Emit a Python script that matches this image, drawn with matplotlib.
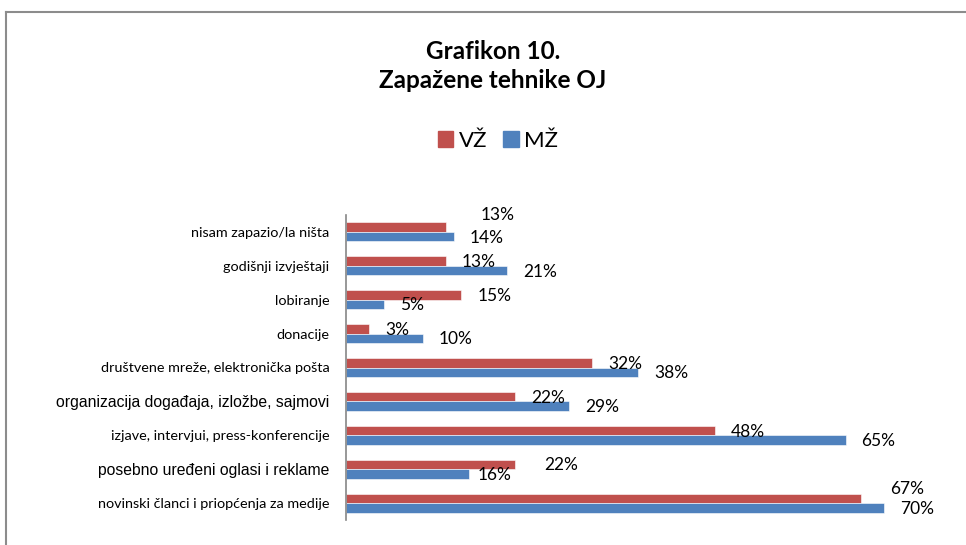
import matplotlib.pyplot as plt
from matplotlib.patches import Patch
from matplotlib.lines import Line2D

categories = [
    "nisam zapazio/la ništa",
    "godišnji izvještaji",
    "lobiranje",
    "donacije",
    "društvene mreže, elektronička pošta",
    "organizacija događaja, izložbe, sajmovi",
    "izjave, intervjui, press-konferencije",
    "posebno uređeni oglasi i reklame",
    "novinski članci i priopćenja za medije",
]
vz = [13, 13, 15, 3, 32, 22, 48, 22, 67]
mz = [14, 21, 5, 10, 38, 29, 65, 16, 70]
series_names = ["VŽ", "MŽ"]

RED = "#C0504D"
BLUE = "#4F81BD"
W, H = 966, 545
PT = 0.72  # points per pixel at dpi 100

# hand-dragged label nudges in pixels (dx, dy up)
nudges = {("vz", 0): (19, 13), ("vz", 7): (13, 0), ("vz", 8): (13, 10), ("mz", 7): (-7, 0)}

fig = plt.figure(figsize=(W / 100, H / 100), dpi=100)
ax = fig.add_axes([346 / W, 1 - 520 / H, (930 - 346) / W, 305 / H])

ypos = list(range(len(categories)))
bh = 0.28
ax.barh([y - bh / 2 for y in ypos], vz, height=bh, color=RED, edgecolor="white", linewidth=0.4)
ax.barh([y + bh / 2 for y in ypos], mz, height=bh, color=BLUE, edgecolor="white", linewidth=0.4)

ax.set_xlim(0, 70 * (930 - 346) / (884 - 346))
ax.set_ylim(8.5, -0.5)

for key, vals, off in (("vz", vz, -bh / 2), ("mz", mz, bh / 2)):
    for i, v in enumerate(vals):
        dx, dy = nudges.get((key, i), (0, 0))
        ax.annotate(f"{v}%", (v, i + off), xytext=((16 + dx) * PT, (dy - 1) * PT),
                    textcoords="offset points", ha="left", va="center",
                    fontsize=12.5, family="Lato", color="black")

ax.set_yticks(ypos)
ax.set_yticklabels(categories)
for i, lab in enumerate(ax.get_yticklabels()):
    if i in (5, 7):
        lab.set_family("Liberation Sans")
        lab.set_fontsize(11.3)
    else:
        lab.set_family("Lato")
        lab.set_fontsize(10.4)
ax.tick_params(axis="y", length=0, pad=12)
ax.set_xticks([])
for s in ("top", "right", "bottom"):
    ax.spines[s].set_visible(False)
ax.spines["left"].set_color("#868686")
ax.spines["left"].set_linewidth(1.2)

fig.text(493 / W, 1 - 51 / H, "Grafikon 10.", ha="center", va="center",
         fontsize=17.5, fontweight="bold", family="Lato")
fig.text(493 / W, 1 - 81 / H, "Zapažene tehnike OJ", ha="center", va="center",
         fontsize=17.5, fontweight="bold", family="Lato")

handles = [Patch(color=RED), Patch(color=BLUE)]
fig.legend(handles, series_names, loc="center", bbox_to_anchor=(498 / W, 1 - 141 / H),
           ncol=2, frameon=False, prop={"family": "Lato", "size": 16},
           handlelength=0.7, handleheight=0.7, handletextpad=0.25, columnspacing=0.7,
           borderpad=0.1)

# chart frame (only top and left edge visible)
fig.add_artist(Line2D([6 / W, 1], [1 - 12 / H, 1 - 12 / H], color="#8c8c8c", lw=1.5))
fig.add_artist(Line2D([6 / W, 6 / W], [0, 1 - 12 / H], color="#8c8c8c", lw=1.5))

fig.savefig("out.png", dpi=100)
